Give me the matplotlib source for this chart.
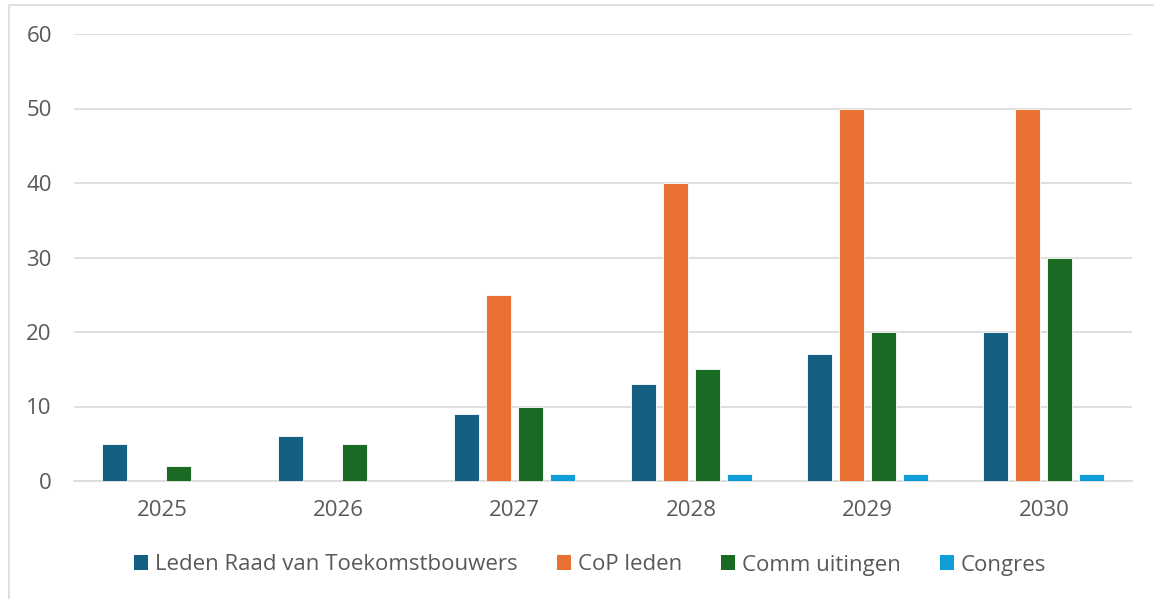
import matplotlib
matplotlib.use("Agg")
import matplotlib.pyplot as plt
from matplotlib.patches import Rectangle, Patch
import numpy as np

years = ["2025", "2026", "2027", "2028", "2029", "2030"]
series_names = ["Leden Raad van Toekomstbouwers", "CoP leden", "Comm uitingen", "Congres"]
leden = [5, 6, 9, 13, 17, 20]
cop = [0, 0, 25, 40, 50, 50]
comm = [2, 5, 10, 15, 20, 30]
congres = [0, 0, 1, 1, 1, 1]
colors = ["#156082", "#E97132", "#196B24", "#0F9ED5"]
yticks = [0, 10, 20, 30, 40, 50, 60]

plt.rcParams["font.family"] = ["Open Sans", "DejaVu Sans"]
text_color = "#595959"

W, H = 1154, 599
fig = plt.figure(figsize=(W / 100, H / 100), dpi=100)
ax = fig.add_axes([74 / W, 1 - 481 / H, (1132 - 74) / W, (481 - 34) / H])

x = np.arange(len(years))
step = 0.1815
width = 0.1418
all_series = [leden, cop, comm, congres]
for i, (vals, col) in enumerate(zip(all_series, colors)):
    ax.bar(x + (i - 1.5) * step, vals, width=width, color=col,
           edgecolor="white", linewidth=0.6, zorder=3)

ax.set_xlim(-0.5, len(years) - 0.5)
ax.set_ylim(0, 60)
ax.set_yticks(yticks)
ax.set_xticks(x)
ax.set_xticklabels(years)
ax.grid(axis="y", color="#D9D9D9", linewidth=1.2, zorder=0)
ax.set_axisbelow(True)
for s in ["top", "right", "left"]:
    ax.spines[s].set_visible(False)
ax.spines["bottom"].set_color("#D9D9D9")
ax.spines["bottom"].set_linewidth(1.2)
ax.tick_params(axis="both", length=0, labelsize=16, labelcolor=text_color)
ax.tick_params(axis="y", pad=16)
ax.tick_params(axis="x", pad=14)

# chart-area border
fig.patches.append(Rectangle((8.5 / W, -0.1), 1.2, 1 - 5.5 / H + 0.1,
                             transform=fig.transFigure, fill=False,
                             edgecolor="#D9D9D9", linewidth=1.2))

handles = [Patch(facecolor=c, edgecolor="none") for c in colors]
fig.legend(handles, series_names, loc="center", ncol=4,
           bbox_to_anchor=(590 / W, 1 - 565 / H), frameon=False,
           fontsize=16, labelcolor=text_color, handlelength=0.65,
           handleheight=0.65, handletextpad=0.3, columnspacing=1.75)

fig.savefig("out.png", dpi=100, facecolor="white")
